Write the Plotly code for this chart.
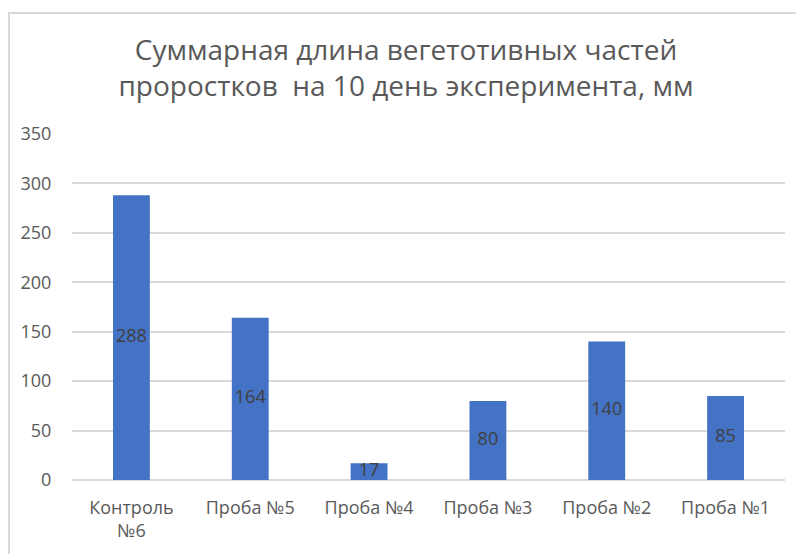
import plotly.graph_objects as go

categories = ["Контроль<br>№6", "Проба №5", "Проба №4", "Проба №3", "Проба №2", "Проба №1"]
values = [288, 164, 17, 80, 140, 85]
y_ticks = [0, 50, 100, 150, 200, 250, 300, 350]

title = "Суммарная длина вегетотивных частей<br>проростков  на 10 день эксперимента, мм"

bar_color = "#4472C4"
grey = "#595959"
grid = "#D9D9D9"
font_family = "Open Sans, Noto Sans, sans-serif"

fig = go.Figure()
fig.add_trace(go.Bar(
    x=categories,
    y=values,
    marker=dict(color=bar_color, line=dict(width=0)),
    hoverinfo="skip",
))
# value labels sit at the middle of each bar
fig.add_trace(go.Scatter(
    x=categories,
    y=[v / 2 for v in values],
    text=[str(v) for v in values],
    mode="text",
    textfont=dict(family=font_family, size=18, color="#404040"),
    hoverinfo="skip",
))

# page body adds an 8px margin, so the figure is 8px smaller on each axis
fig.update_layout(
    width=796,
    height=546,
    margin=dict(l=64, r=19, t=126, b=65),
    paper_bgcolor="white",
    plot_bgcolor="white",
    showlegend=False,
    bargap=0.69,
    font=dict(family=font_family, color=grey),
    title=dict(
        text=title,
        x=0.5,
        xanchor="center",
        y=0.905,
        yanchor="top",
        font=dict(family=font_family, size=28, color=grey),
    ),
)
fig.update_yaxes(
    range=[0, 350],
    tickvals=y_ticks,
    showgrid=True,
    gridcolor=grid,
    gridwidth=1.5,
    zeroline=True,
    zerolinecolor=grid,
    zerolinewidth=1.5,
    showline=False,
    ticks="outside",
    ticklen=16,
    tickcolor="rgba(0,0,0,0)",
    tickfont=dict(size=18, color=grey),
)
fig.update_xaxes(
    showgrid=False,
    showline=False,
    ticks="outside",
    ticklen=11,
    tickcolor="rgba(0,0,0,0)",
    tickfont=dict(size=18, color=grey),
)

# chart frame: only its left and top edges fall inside the picture
fig.add_shape(type="rect", xref="paper", yref="paper",
              x0=-0.0884, x1=1.2, y0=-0.5, y1=1.35,
              line=dict(color=grid, width=2), layer="below")

fig.write_html("out.html")
